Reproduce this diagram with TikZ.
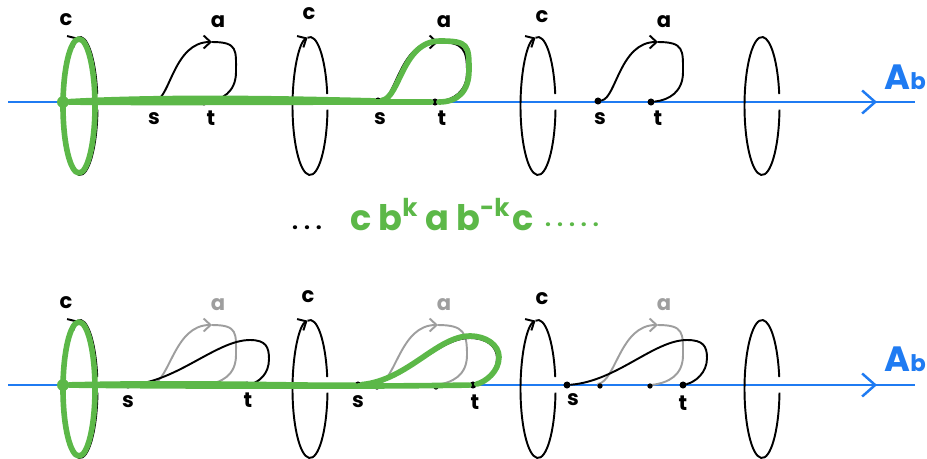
\documentclass[tikz,border=0pt]{standalone}
\usepackage{fontspec}
\setmainfont{Poppins}
\usetikzlibrary{arrows.meta}
\definecolor{axisblue}{HTML}{1F7BF2}
\definecolor{walkgreen}{HTML}{5CB848}
\definecolor{oldgrey}{HTML}{9E9E9E}

\begin{document}
\begin{tikzpicture}[x=0.2mm, y=-0.2mm,
    every node/.style={font=\fontsize{12}{12}\selectfont\bfseries, inner sep=0pt},
    axisline/.style={axisblue, line width=1.4pt},
    ring/.style={line width=1.1pt},
    strand/.style={line width=1.1pt, line cap=round},
    oldstrand/.style={strand, oldgrey},
    walk/.style={walkgreen, line width=3.2pt, line cap=round, line join=round},
    barb/.style={-{Straight Barb[length=1.4mm, width=2.6mm]}},
    pt/.style={circle, fill, minimum size=4pt},
    smallpt/.style={circle, fill, minimum size=3pt},
    gpt/.style={circle, fill=walkgreen, minimum size=2.4mm},
    big/.style={font=\fontsize{20}{20}\selectfont\bfseries}]
  \useasboundingbox (0,0) rectangle (927,458);

  \foreach \r/\y in {1/102, 2/385} {
    \coordinate (L\r) at (8,\y);
    \coordinate (H\r) at (877,\y);
    \coordinate (R\r) at (915,\y);
    \draw[axisline] (L\r) -- (R\r);
    \draw[axisline, -{Straight Barb[length=2.6mm, width=4.6mm]}] (L\r) -- (H\r);
  }
  \node[axisblue, anchor=base west] (Ab1) at (884,89) {\fontsize{20}{20}\selectfont A\fontsize{13}{13}\selectfont b};
  \node[axisblue, anchor=base west] (Ab2) at (884,371) {\fontsize{20}{20}\selectfont A\fontsize{13}{13}\selectfont b};

  \foreach \cx in {80,310,538} \foreach \cy in {106,389} {
    \draw[ring, barb] (\cx,\cy) ++(3:17.5 and 69) arc[start angle=3, end angle=262, x radius=17.5, y radius=69];
    \draw[ring] (\cx,\cy) ++(262:17.5 and 69) arc[start angle=262, end angle=350, x radius=17.5, y radius=69];
  }
  \foreach \cy in {106,389}
    \draw[ring] (762,\cy) ++(3:17.5 and 69) arc[start angle=3, end angle=350, x radius=17.5, y radius=69];

  \node (c1) at (66,20) {c};
  \node (c2) at (309,14) {c};
  \node (c3) at (542,17) {c};
  \node (c4) at (66,303) {c};
  \node (c5) at (308,297) {c};
  \node (c6) at (542,299) {c};

  \foreach \n/\sx/\tx/\rx in {1/152/204/236, 2/378/435/467, 3/598/651/683} {
    \node[pt] (s\n) at (\sx,101) {};
    \node[pt] (t\n) at (\tx,102) {};
    \coordinate (a\n) at (\sx+60,42);
    \coordinate (r\n) at (\rx,72);
    \draw[strand, barb] (s\n) .. controls +(18,-3) and +(-38,0) .. (a\n);
    \draw[strand] (a\n) .. controls +(26,0) and +(0,-22) .. (r\n) .. controls +(0,20) and +(18,-2) .. (t\n);
    \node (la\n) at (\sx+66,22) {a};
    \node (ls\n) at (\sx+2,119) {s};
    \node (lt\n) at (\tx+7,118) {t};
    \coordinate (os\n) at (\sx,384);
    \coordinate (ot\n) at (\tx,385);
    \coordinate (oa\n) at (\sx+60,325);
    \coordinate (or\n) at (\rx,355);
    \draw[oldstrand, barb] (os\n) .. controls +(18,-3) and +(-38,0) .. (oa\n);
    \draw[oldstrand] (oa\n) .. controls +(26,0) and +(0,-22) .. (or\n) .. controls +(0,20) and +(18,-2) .. (ot\n);
    \node[oldgrey] (loa\n) at (\sx+66,305) {a};
  }
  \node[smallpt] (od1) at (377,387) {};
  \node[smallpt] (od2) at (436,387) {};
  \node[smallpt] (od3) at (600,386) {};
  \node[smallpt] (od4) at (650,386) {};

  \node[pt] (bs1) at (128,385) {};
  \node[pt] (bt1) at (247,385) {};
  \node[pt] (bs2) at (358,385) {};
  \node[pt] (bt2) at (473,385) {};
  \node[pt] (bs3) at (567,385) {};
  \node[pt] (bt3) at (683,385) {};
  \coordinate (bk1) at (250,340);
  \coordinate (br1) at (269,359);
  \coordinate (bk2) at (470,338);
  \coordinate (br2) at (497,358);
  \coordinate (bk3) at (687,340);
  \coordinate (br3) at (707,358);
  \foreach \n in {1,2,3}
    \draw[strand] (bs\n) .. controls +(50,-4) and +(-33,0) .. (bk\n)
      .. controls +(16,0) and +(0,-12) .. (br\n) .. controls +(0,15) and +(12,-3) .. (bt\n);
  \node (lbs1) at (128,402) {s};
  \node (lbt1) at (248,400) {t};
  \node (lbs2) at (358,402) {s};
  \node (lbt2) at (475,402) {t};
  \node (lbs3) at (573,400) {s};
  \node (lbt3) at (683,403) {t};

  \node[gpt] (g1) at (63,102) {};
  \node[gpt] (g2) at (63,385) {};
  \coordinate (ga) at (440,41);
  \coordinate (gr) at (469,70);
  \coordinate (gk) at (470,336);
  \coordinate (gq) at (499,357);
  \draw[walk] (79,106) ellipse [x radius=16, y radius=67];
  \draw[walk] (79,389) ellipse [x radius=16, y radius=67];
  \draw[walk] (g1) .. controls (170,96) and (300,99) .. (s2)
    .. controls +(22,-3) and +(-38,0) .. (ga) .. controls +(28,0) and +(0,-25) .. (gr)
    .. controls +(0,22) and +(22,0) .. (t2) .. controls (300,102) and (150,103) .. (g1);
  \draw[walk] (g2) .. controls (200,382) and (300,386) .. (bs2)
    .. controls +(50,-5) and +(-33,0) .. (gk) .. controls +(16,0) and +(0,-12) .. (gq)
    .. controls +(0,15) and +(12,-3) .. (bt2) .. controls (350,387) and (150,386) .. (g2);

  \node[big, walkgreen, anchor=base] (word) at (442,230)
    {c\hspace{1.4mm}b\textsuperscript{k}\hspace{1.4mm}a\hspace{1.4mm}b\textsuperscript{-k}\hspace{0.4mm}c};
  \node[anchor=base] (dl) at (307,229) {. . .};
  \node[walkgreen, anchor=base] (dr) at (572,226) {. . . . .};
\end{tikzpicture}
\end{document}
